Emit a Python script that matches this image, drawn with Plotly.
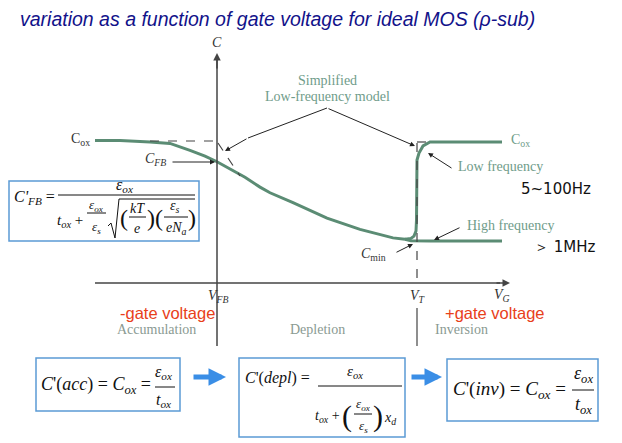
import plotly.graph_objects as go

W, H = 622, 443

# ---- data; V in units where V_FB=0, V_T=2 ; C normalised to Cox=1
vg_depl = [-1.22, -0.97, -0.67, -0.47, -0.27, -0.12, 0.00, 0.13, 0.28, 0.43, 0.53, 0.76, 1.10, 1.43, 1.76, 1.88]
c_depl = [1.01, 1.01, 1.00, 0.99, 0.94, 0.90, 0.86, 0.81, 0.75, 0.68, 0.64, 0.57, 0.46, 0.38, 0.32, 0.31]
vg_lf = [1.88, 1.94, 1.97, 1.99, 1.995, 1.995, 2.00, 2.02, 2.06, 2.13, 2.28, 2.85]
c_lf = [0.31, 0.316, 0.333, 0.369, 0.447, 0.801, 0.872, 0.922, 0.972, 1.00, 1.00, 1.00]
vg_hf = [1.88, 1.94, 2.13, 2.85]
c_hf = [0.31, 0.30, 0.298, 0.298]

CURVE = "#5b8c74"
GREEN_TXT = "#6f9c8a"
REGION_TXT = "#8a9a92"
AX = "#444444"
BOX = "#5b9bd5"
BLUE_ARROW = "#3a8ee6"
RED = "#e8401a"
SERIF = "Liberation Serif"
SANS = "Liberation Sans"

fig = go.Figure()
for xs, ys in [(vg_depl, c_depl), (vg_lf, c_lf), (vg_hf, c_hf)]:
    fig.add_trace(go.Scatter(x=xs, y=ys, mode="lines", line=dict(color=CURVE, width=3),
                             hoverinfo="skip", showlegend=False))

ann = []
shapes = []


def px(x):
    return x / W


def py(y):
    return 1 - y / H


def text(s, x, y, size, color="#222", family=SERIF, xa="center"):
    ann.append(dict(text=s, x=px(x), y=py(y), xref="paper", yref="paper", showarrow=False,
                    font=dict(size=size, color=color, family=family), xanchor=xa, yanchor="middle"))


def arrow(x0, y0, x1, y1, color="#222", width=1, head=2, size=1.0):
    ann.append(dict(text="", x=px(x1), y=py(y1), xref="paper", yref="paper",
                    ax=x0 - x1, ay=y0 - y1, showarrow=True, arrowhead=head,
                    arrowsize=size, arrowwidth=width, arrowcolor=color))


def line(x0, y0, x1, y1, color="#222", width=1, dash="solid"):
    shapes.append(dict(type="line", xref="paper", yref="paper", x0=px(x0), y0=py(y0),
                       x1=px(x1), y1=py(y1), line=dict(color=color, width=width, dash=dash)))


def rect(x0, y0, x1, y1):
    shapes.append(dict(type="rect", xref="paper", yref="paper", x0=px(x0), y0=py(y0),
                       x1=px(x1), y1=py(y1), line=dict(color=BOX, width=1.5)))


# title
text("<i>variation as a function of gate voltage for ideal MOS (ρ-sub)</i>", 18, 19, 19.5,
     "#12128a", SANS, "left")

# axes
line(217, 60, 217, 346, AX, 1.5)
arrow(217, 70, 217, 53, AX, 1.5, 2, 1.0)
text("<i>C</i>", 217, 42, 14, "#333")
line(95, 283, 500, 283, AX, 1.5)
arrow(495, 283, 510, 283, AX, 1.5, 2, 1.0)
text("<i>V<sub>FB</sub></i>", 218, 296, 14, "#333")
text("<i>V<sub>T</sub></i>", 418, 296, 14, "#333")
text("<i>V<sub>G</sub></i>", 502, 295, 14, "#333")
line(417, 143, 417, 283, AX, 1.2, "dash")
line(417, 308, 417, 346, AX, 1.2)
line(417, 142, 426, 142, AX, 1.2, "dash")
# simplified model dashes
line(150, 141, 217, 141, AX, 1.2, "dash")
line(218, 143, 240, 176, AX, 1.2, "dash")

# curve labels
text("C<sub>ox</sub>", 80, 139, 14, "#333")
text("<i>C<sub>FB</sub></i>", 155, 159, 14, "#333")
arrow(171, 162, 215, 162, "#222", 1, 2, 1.0)
text("Simplified", 327, 81, 14, GREEN_TXT)
text("Low-frequency model", 327, 97, 14, GREEN_TXT)
line(327, 108, 248, 138, "#222", 1)
arrow(248, 138, 225, 151, "#222", 1, 2, 1.0)
arrow(327, 108, 415, 146, "#222", 1, 2, 1.0)
text("C<sub>ox</sub>", 520, 141, 14, GREEN_TXT)
text("Low frequency", 501, 167, 14, GREEN_TXT)
arrow(453, 169, 428, 153, "#222", 1, 2, 1.0)
text("5~100Hz", 556, 189, 15, "#111", "DejaVu Sans")
text("High frequency", 510, 225, 14, GREEN_TXT)
arrow(461, 227, 434, 240, "#222", 1, 2, 1.0)
text("＞ 1MHz", 565, 247, 15, "#111", "DejaVu Sans")
text("<i>C</i><sub>min</sub>", 373, 254, 14, "#333")
arrow(395, 253, 413, 244, "#222", 1, 2, 1.0)

# region labels
text("-gate voltage", 167, 313, 16.5, RED, SANS)
text("+gate voltage", 495, 313, 16.5, RED, SANS)
text("Accumulation", 156, 329, 14, REGION_TXT)
text("Depletion", 317, 329, 14, REGION_TXT)
text("Inversion", 461, 329, 14, REGION_TXT)

# C'FB box
rect(9, 181, 199, 241)
text("<i>C'<sub>FB</sub></i> =", 12, 197, 16, "#111", SERIF, "left")
line(58, 195, 195, 195, "#111", 1)
text("<i>ε<sub>ox</sub></i>", 124, 185, 16, "#111")
text("<i>t<sub>ox</sub></i> +", 70, 221, 15, "#111")
text("<i>ε<sub>ox</sub></i>", 96, 205, 13, "#111")
line(87, 213, 106, 213, "#111", 1)
text("<i>ε<sub>s</sub></i>", 96, 227, 13, "#111")
# sqrt
line(108, 226, 111, 223, "#111", 1)
line(111, 223, 115, 238, "#111", 1)
line(115, 238, 119, 199, "#111", 1)
line(119, 199, 195, 199, "#111", 1)
text("(", 124, 218, 24, "#111")
text("<i>kT</i>", 137, 208, 14, "#111")
line(129, 217, 146, 217, "#111", 1)
text("<i>e</i>", 137, 228, 14, "#111")
text(")", 151, 218, 24, "#111")
text("(", 159, 218, 24, "#111")
text("<i>ε<sub>s</sub></i>", 175, 207, 14, "#111")
line(164, 217, 188, 217, "#111", 1)
text("<i>eN<sub>a</sub></i>", 176, 228, 14, "#111")
text(")", 192, 218, 24, "#111")

# bottom boxes
rect(36, 358, 180, 411)
text("<i>C</i>'(<i>acc</i>) = <i>C<sub>ox</sub></i> =", 39, 385, 18, "#111", SERIF, "left")
text("<i>ε<sub>ox</sub></i>", 164, 372, 16, "#111")
line(155, 387, 175, 387, "#111", 1)
text("<i>t<sub>ox</sub></i>", 164, 400, 16, "#111")

arrow(192, 377, 226, 377, BLUE_ARROW, 5, 2, 0.7)

rect(239, 358, 405, 437)
text("<i>C</i>'(<i>depl</i>) =", 243, 378, 16, "#111", SERIF, "left")
text("<i>ε<sub>ox</sub></i>", 355, 372, 15, "#111")
line(318, 386, 402, 386, "#111", 1)
text("<i>t<sub>ox</sub></i> +", 327, 416, 14, "#111")
text("(", 347, 416, 30, "#111")
text("<i>ε<sub>ox</sub></i>", 363, 404, 13, "#111")
line(354, 414, 372, 414, "#111", 1)
text("<i>ε<sub>s</sub></i>", 363, 426, 13, "#111")
text(")", 378, 416, 30, "#111")
text("<i>x<sub>d</sub></i>", 390, 418, 14, "#111")

arrow(410, 377, 442, 377, BLUE_ARROW, 5, 2, 0.7)

rect(447, 359, 598, 421)
text("<i>C</i>'(<i>inv</i>) = <i>C<sub>ox</sub></i> =", 451, 390, 19, "#111", SERIF, "left")
text("<i>ε<sub>ox</sub></i>", 583, 374, 18, "#111")
line(572, 390, 594, 390, "#111", 1)
text("<i>t<sub>ox</sub></i>", 583, 405, 18, "#111")

fig.update_layout(
    width=W, height=H, autosize=False,
    margin=dict(l=0, r=0, t=0, b=0),
    paper_bgcolor="white", plot_bgcolor="white",
    xaxis=dict(range=[(0 - 217) / 100, (W - 217) / 100], visible=False, fixedrange=True),
    yaxis=dict(range=[(283 - H) / 141, 283 / 141], visible=False, fixedrange=True),
    annotations=ann, shapes=shapes, showlegend=False,
)
fig.write_html("out.html", config={"displayModeBar": False},
               post_script="document.body.style.margin='0';")
